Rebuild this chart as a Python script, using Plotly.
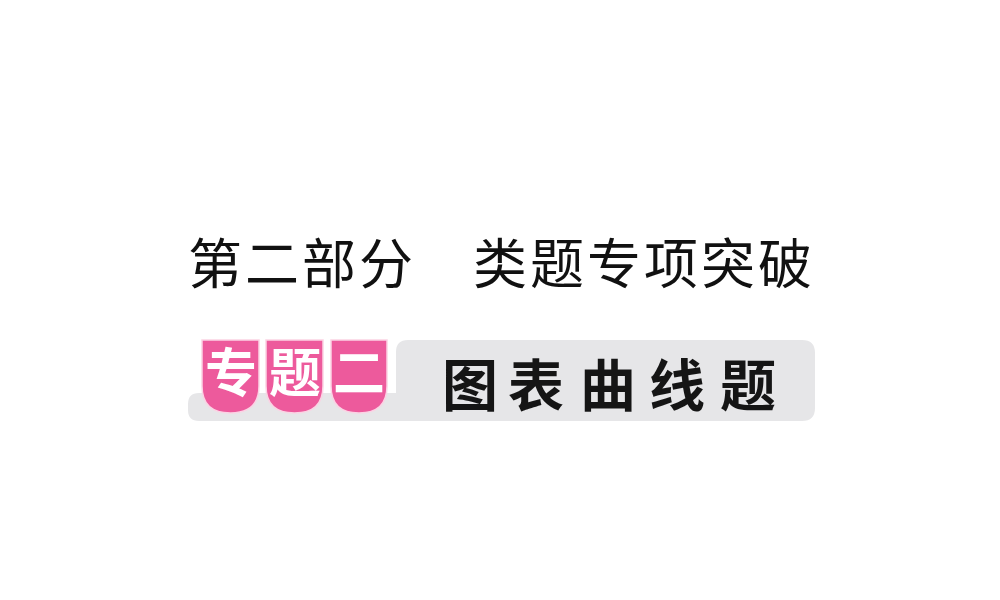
import plotly.graph_objects as go

# slide texts
title_chars = list("第二部分　类题专项突破")
badge_chars = ["专", "题", "二"]
topic_chars = list("图表曲线题")

pink = "#ed5a9c"
grey = "#e6e6e8"

fig = go.Figure()

shapes = []
# grey bar: tall right part + low strip under the badges
shapes.append(dict(type="path", layer="below",
                   path="M 396 352 Q 396 340 408 340 L 802 340 Q 815 340 815 353 L 815 408 "
                        "Q 815 421 802 421 L 199 421 Q 188 421 188 410 L 188 404 Q 188 393 199 393 L 396 393 Z",
                   fillcolor=grey, line=dict(width=0)))

badge_x = [(202, 259), (266, 323), (331, 387)]
for x0, x1 in badge_x:
    xc = (x0 + x1) / 2
    shapes.append(dict(type="path",
                       path=f"M {x0} 340 L {x1} 340 L {x1} 386 Q {x1} 413 {xc} 413 Q {x0} 413 {x0} 386 Z",
                       fillcolor=pink, line=dict(color="#fbd3e4", width=1.5)))

annotations = []
for i, ch in enumerate(title_chars):
    annotations.append(dict(x=215 + 57 * i, y=260, text=ch, showarrow=False,
                            xanchor="center", yanchor="middle",
                            font=dict(family="Noto Sans CJK SC", size=54, color="#111111", weight=400)))

for (x0, x1), ch in zip(badge_x, badge_chars):
    annotations.append(dict(x=(x0 + x1) / 2, y=369, text=ch, showarrow=False,
                            xanchor="center", yanchor="middle",
                            font=dict(family="Noto Sans CJK SC", size=52, color="white", weight=700)))

topic_x = [470, 536, 608, 677, 748]
for x, ch in zip(topic_x, topic_chars):
    annotations.append(dict(x=x, y=381, text=ch, showarrow=False,
                            xanchor="center", yanchor="middle",
                            font=dict(family="Noto Sans CJK SC", size=56, color="#151515", weight=700)))

# the page body adds an 8px margin, so shift the visible window to compensate
fig.update_layout(width=1000, height=600, margin=dict(l=0, r=0, t=0, b=0),
                  paper_bgcolor="white", plot_bgcolor="white",
                  shapes=shapes, annotations=annotations, showlegend=False)
fig.update_xaxes(range=[8, 1008], visible=False, fixedrange=True)
fig.update_yaxes(range=[608, 8], visible=False, fixedrange=True)

fig.write_html("out.html", config={"displayModeBar": False})
